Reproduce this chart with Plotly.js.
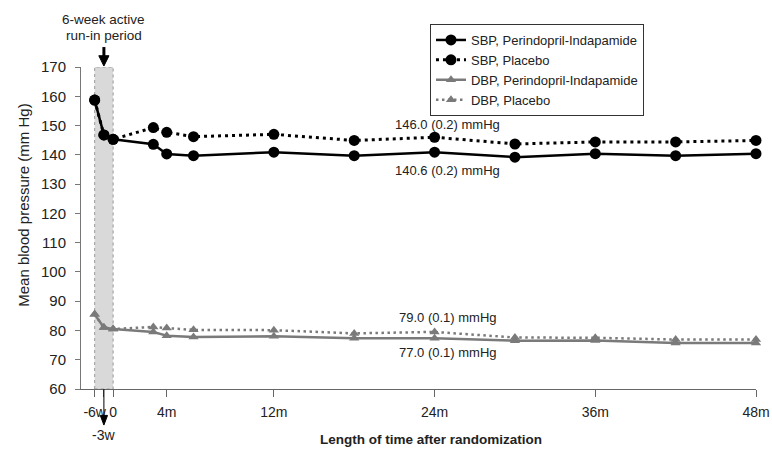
<!DOCTYPE html>
<html>
<head>
<meta charset="utf-8">
<script src="https://cdn.plot.ly/plotly-3.0.1.min.js"></script>
<style>html,body{margin:0;padding:0;background:#fff;}#chart{width:772px;height:458px;}</style>
</head>
<body>
<div id="chart"></div>
<script>
// x positions in months (-6 weeks, -3 weeks, randomization, follow-up visits)
const months = [-1.38, -0.69, 0, 3, 4, 6, 12, 18, 24, 30, 36, 42, 48];
const sbpPerInd = [158.7, 146.8, 145.3, 143.6, 140.3, 139.7, 140.9, 139.7, 140.9, 139.2, 140.4, 139.7, 140.4];
const sbpPlacebo = [158.7, 146.8, 145.3, 149.3, 147.7, 146.2, 147.0, 144.9, 146.0, 143.7, 144.4, 144.4, 144.9];
const dbpPerInd = [85.5, 81.0, 80.5, 79.5, 78.2, 77.8, 78.0, 77.3, 77.3, 76.5, 76.6, 75.7, 75.7];
const dbpPlacebo = [85.5, 81.0, 80.5, 81.2, 80.8, 80.2, 80.1, 79.0, 79.5, 77.6, 77.5, 76.9, 76.9];
const seriesNames = ["SBP, Perindopril-Indapamide", "SBP, Placebo", "DBP, Perindopril-Indapamide", "DBP, Placebo"];
const tickVals = [-1.38, -0.69, 0, 4, 12, 24, 36, 48];
const tickText = ["-6w", "", "0", "4m", "12m", "24m", "36m", "48m"];
const yTicks = [60, 70, 80, 90, 100, 110, 120, 130, 140, 150, 160, 170];
const finalLabels = ["146.0 (0.2) mmHg", "140.6 (0.2) mmHg", "79.0 (0.1) mmHg", "77.0 (0.1) mmHg"];

const BLACK = "#000000", GRAY = "#7a7a7a";
const font = "Liberation Sans, Arial, sans-serif";

const traces = [
  {x: months, y: sbpPerInd, name: seriesNames[0], mode: "lines+markers", cliponaxis: false,
   line: {color: BLACK, width: 2.5}, marker: {symbol: "circle", size: 11, color: BLACK}},
  {x: months, y: sbpPlacebo, name: seriesNames[1], mode: "lines+markers", cliponaxis: false,
   line: {color: BLACK, width: 3, dash: "3px,4px"}, marker: {symbol: "circle", size: 11, color: BLACK}},
  {x: months, y: dbpPerInd, name: seriesNames[2], mode: "lines+markers", cliponaxis: false,
   line: {color: GRAY, width: 2.5}, marker: {symbol: "triangle-up", size: 9, color: GRAY}},
  {x: months, y: dbpPlacebo, name: seriesNames[3], mode: "lines+markers", cliponaxis: false,
   line: {color: GRAY, width: 2.5, dash: "2.5px,3.5px"}, marker: {symbol: "triangle-up", size: 9, color: GRAY}}
];

const xm3 = tickVals[1];
const mid = {xanchor: "center", yanchor: "middle", showarrow: false};
const layout = {
  width: 772, height: 458,
  margin: {l: 81, r: 16, t: 67, b: 69},
  paper_bgcolor: "#fff", plot_bgcolor: "#fff",
  font: {family: font, size: 15, color: "#222"},
  showlegend: true,
  legend: {x: 0.517, y: 1.1335, xanchor: "left", yanchor: "top",
           bordercolor: "#333", borderwidth: 1, bgcolor: "#fff",
           font: {size: 13, color: "#222"}, tracegroupgap: 0},
  xaxis: {range: [-2.4, 48], tickvals: tickVals, ticktext: tickText,
          showline: true, linecolor: "#666", linewidth: 1, ticks: "outside", ticklen: 7, tickcolor: "#666",
          showgrid: false, zeroline: false, tickfont: {size: 14, color: "#222"}, ticklabelstandoff: 3},
  yaxis: {range: [60, 170], tickvals: yTicks,
          showline: true, linecolor: "#777", linewidth: 1, ticks: "outside", ticklen: 5, tickcolor: "#777",
          showgrid: false, zeroline: false, tickfont: {size: 15, color: "#222"}, ticklabelstandoff: 6},
  shapes: [
    {type: "rect", xref: "x", yref: "y", x0: tickVals[0], x1: 0, y0: 60, y1: 170, layer: "below",
     fillcolor: "#d9d9d9", line: {color: "#999", width: 1, dash: "dot"}},
    // top arrow
    {type: "line", xref: "x", yref: "paper", x0: xm3, x1: xm3, y0: 1.062, y1: 1.03, line: {color: "#000", width: 3}},
    {type: "path", xref: "x", yref: "paper", path: `M ${xm3-0.38},1.035 L ${xm3+0.38},1.035 L ${xm3},1.003 Z`,
     fillcolor: "#000", line: {color: "#000", width: 1}},
    // -3w arrow below axis
    {type: "line", xref: "x", yref: "paper", x0: xm3, x1: xm3, y0: 0, y1: -0.085, line: {color: "#000", width: 1}},
    {type: "path", xref: "x", yref: "paper", path: `M ${xm3-0.27},-0.082 L ${xm3+0.27},-0.082 L ${xm3},-0.112 Z`,
     fillcolor: "#000", line: {color: "#000", width: 1}}
  ],
  annotations: [
    Object.assign({xref: "x", yref: "paper", x: xm3, y: 1.148, text: "6-week active", font: {size: 13.5, color: "#222"}}, mid),
    Object.assign({xref: "x", yref: "paper", x: xm3, y: 1.099, text: "run-in period", font: {size: 13.5, color: "#222"}}, mid),
    Object.assign({xref: "x", yref: "paper", x: xm3, y: -0.143, text: "-3w", font: {size: 14, color: "#222"}}, mid),
    Object.assign({xref: "paper", yref: "paper", x: 0.519, y: -0.158, text: "<b>Length of time after randomization</b>",
     font: {size: 13.5, color: "#222"}}, mid),
    Object.assign({xref: "paper", yref: "paper", x: -0.085, y: 0.571, text: "Mean blood pressure (mm Hg)", textangle: -90,
     font: {size: 15, color: "#222"}}, mid),
    Object.assign({xref: "x", yref: "y", x: 25, y: 150.2, text: finalLabels[0], font: {size: 13, color: "#222"}}, mid),
    Object.assign({xref: "x", yref: "y", x: 25, y: 134.8, text: finalLabels[1], font: {size: 13, color: "#222"}}, mid),
    Object.assign({xref: "x", yref: "y", x: 25, y: 84.3, text: finalLabels[2], font: {size: 13, color: "#222"}}, mid),
    Object.assign({xref: "x", yref: "y", x: 25, y: 72.4, text: finalLabels[3], font: {size: 13, color: "#222"}}, mid)
  ]
};

Plotly.newPlot("chart", traces, layout, {displayModeBar: false, staticPlot: true});
</script>
</body>
</html>
